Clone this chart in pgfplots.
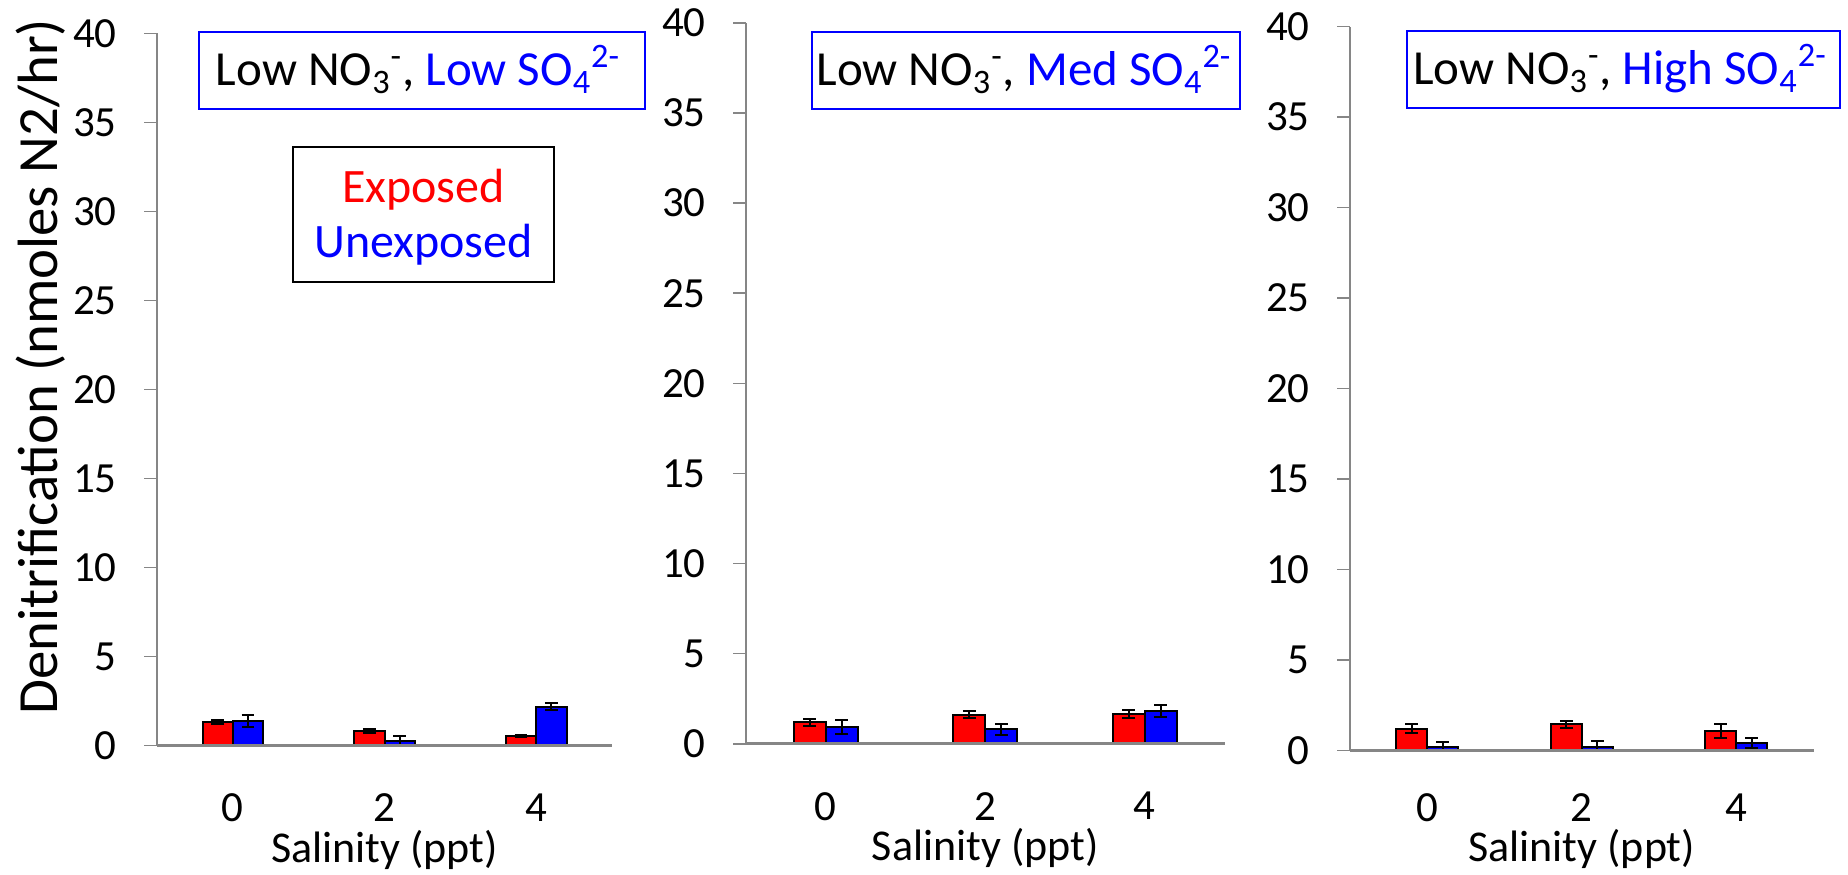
\documentclass[border=0pt]{standalone}
\usepackage{fontspec}
\setmainfont{Carlito}
\usepackage{pgfplots}
\pgfplotsset{compat=1.18}
\definecolor{axgray}{RGB}{134,134,134}
\definecolor{xred}{RGB}{255,0,0}
\definecolor{xblue}{RGB}{0,0,255}
\pgfplotsset{
  panel/.style={
    scale only axis, anchor=south west,
    ybar=0pt, bar width=0.2,
    xmin=-0.5, xmax=2.5, ymin=0, ymax=40,
    xtick={0,1,2}, xticklabels={0,2,4},
    ytick={0,5,...,40},
    axis x line*=bottom, axis y line*=left,
    x axis line style={axgray, line width=1.6pt},
    y axis line style={axgray, line width=0.8pt},
    tick align=outside, major tick length=6.5pt,
    xtick style={draw=none},
    ytick style={axgray, line width=0.8pt},
    /pgf/number format/assume math mode=true,
    tick label style={font=\fontsize{21.5}{25}\selectfont},
    yticklabel style={anchor=east, inner sep=0pt, xshift=-13.5pt},
    xticklabel style={anchor=north, inner sep=0pt, yshift=-17.5pt},
    xlabel={Salinity (ppt)},
    xlabel style={font=\fontsize{22}{26}\selectfont, at={(axis description cs:0.5,0)}, anchor=north, inner sep=0pt, yshift=-42pt},
    axis on top,
  },
  exp/.style={fill=xred, draw=black, line width=1pt,
    error bars/.cd, y dir=both, y explicit,
    error bar style={line width=1pt, black},
    error mark options={rotate=90, mark size=3.2pt, line width=1pt, black}},
  unexp/.style={fill=xblue, draw=black, line width=1pt,
    error bars/.cd, y dir=both, y explicit,
    error bar style={line width=1pt, black},
    error mark options={rotate=90, mark size=3.2pt, line width=1pt, black}},
}
\begin{document}
\begin{tikzpicture}
\path[use as bounding box] (0pt,0pt) rectangle (924pt,437pt);

% Panel 1
\begin{axis}[panel, at={(78.5pt,64.25pt)}, width=227.5pt, height=356pt,
  ylabel={Denitrification (nmoles N2/hr)},
  ylabel style={font=\fontsize{28.4}{32}\selectfont, at={(axis description cs:-0.2549,0.5323)}, anchor=center, inner sep=0pt}]
\addplot[exp] coordinates {(0,1.32) +- (0,0.11) (1,0.82) +- (0,0.10) (2,0.54) +- (0,0.06)};
\addplot[unexp] coordinates {(0,1.38) +- (0,0.36) (1,0.28) +- (0,0.28) (2,2.18) +- (0,0.19)};
\end{axis}

% Panel 2
\begin{axis}[panel, at={(373pt,65.15pt)}, width=239.25pt, height=360.35pt]
\addplot[exp] coordinates {(0,1.18) +- (0,0.21) (1,1.61) +- (0,0.20) (2,1.65) +- (0,0.24)};
\addplot[unexp] coordinates {(0,0.92) +- (0,0.38) (1,0.79) +- (0,0.30) (2,1.83) +- (0,0.34)};
\end{axis}

% Panel 3
\begin{axis}[panel, at={(675pt,61.85pt)}, width=231.75pt, height=361.8pt,
  xticklabel style={yshift=2.5pt},
  xlabel style={yshift=2.5pt}]
\addplot[exp] coordinates {(0,1.20) +- (0,0.23) (1,1.44) +- (0,0.19) (2,1.09) +- (0,0.39)};
\addplot[unexp] coordinates {(0,0.20) +- (0,0.24) (1,0.18) +- (0,0.35) (2,0.39) +- (0,0.29)};
\end{axis}

% Title boxes
\draw[xblue, line width=1pt] (99.5pt,382.5pt) rectangle (322.5pt,421pt);
\node[anchor=base, inner sep=0pt, font=\fontsize{24.5}{28}\selectfont] at (209pt,394pt)
  {Low NO\textsubscript{3}\textsuperscript{-}, \textcolor{xblue}{Low SO\textsubscript{4}\textsuperscript{2-}}};
\draw[xblue, line width=1pt] (406pt,382.5pt) rectangle (620pt,421pt);
\node[anchor=base, inner sep=0pt, font=\fontsize{24.5}{28}\selectfont] at (512pt,394pt)
  {Low NO\textsubscript{3}\textsuperscript{-}, \textcolor{xblue}{Med SO\textsubscript{4}\textsuperscript{2-}}};
\draw[xblue, line width=1pt] (703.5pt,383pt) rectangle (920pt,421.5pt);
\node[anchor=base, inner sep=0pt, font=\fontsize{24.5}{28}\selectfont] at (810pt,394.5pt)
  {Low NO\textsubscript{3}\textsuperscript{-}, \textcolor{xblue}{High SO\textsubscript{4}\textsuperscript{2-}}};

% Legend box
\draw[black, line width=1.2pt] (146.5pt,296pt) rectangle (277pt,363.5pt);
\node[anchor=base, inner sep=0pt, text=xred, font=\fontsize{24}{28}\selectfont] at (211.75pt,335.5pt) {Exposed};
\node[anchor=base, inner sep=0pt, text=xblue, font=\fontsize{24}{28}\selectfont] at (211.75pt,308pt) {Unexposed};
\end{tikzpicture}
\end{document}
